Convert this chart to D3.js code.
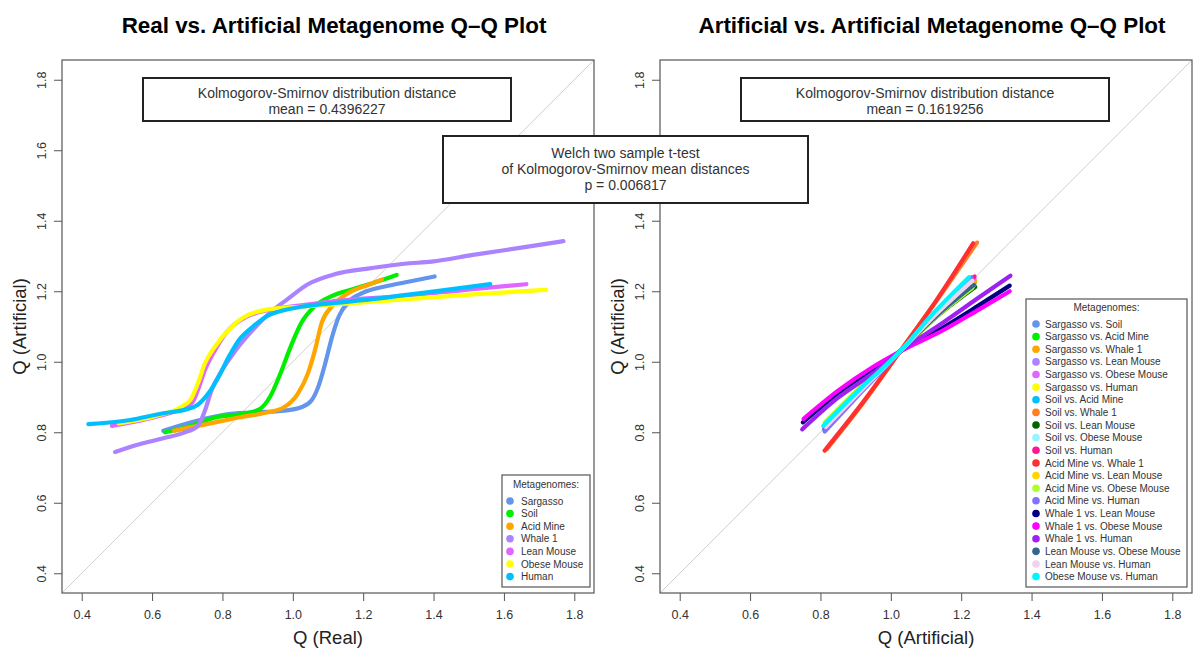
<!DOCTYPE html>
<html><head><meta charset="utf-8">
<script src="https://cdn.jsdelivr.net/npm/d3@7"></script>
<style>
html,body{margin:0;padding:0;background:#fff;}
svg{display:block;font-family:"Liberation Sans",Arial,sans-serif;}
</style></head>
<body>
<svg id="chart" width="1193" height="653"></svg>
<script>
// ---------- DATA ----------
const tickValues = [0.4, 0.6, 0.8, 1.0, 1.2, 1.4, 1.6, 1.8];
const tickLabels = ["0.4","0.6","0.8","1.0","1.2","1.4","1.6","1.8"];

// Left panel: Real vs Artificial (x = Q real, y = Q artificial)
const leftNames  = ["Sargasso","Soil","Acid Mine","Whale 1","Lean Mouse","Obese Mouse","Human"];
const leftColors = ["#6495ED","#00EE00","#FFA500","#AB82FF","#E066FF","#FFFF00","#00BFFF"];
const sargasso = [[0.632,0.804],[0.730,0.833],[0.808,0.850],[0.887,0.856],[0.975,0.861],[1.024,0.871],[1.053,0.890],[1.072,0.928],[1.092,0.995],[1.112,1.072],[1.131,1.129],[1.160,1.172],[1.200,1.196],[1.268,1.215],[1.317,1.225],[1.403,1.242]];
const soil = [[0.637,0.800],[0.711,0.818],[0.779,0.842],[0.857,0.852],[0.906,0.866],[0.935,0.900],[0.965,0.967],[0.994,1.043],[1.024,1.110],[1.063,1.158],[1.112,1.187],[1.170,1.206],[1.239,1.227],[1.295,1.246]];
const acidMine = [[0.662,0.804],[0.730,0.818],[0.779,0.828],[0.847,0.842],[0.926,0.856],[0.975,0.871],[1.014,0.909],[1.043,0.967],[1.063,1.033],[1.082,1.110],[1.112,1.158],[1.160,1.196],[1.219,1.220],[1.253,1.233]];
const whale1 = [[0.495,0.744],[0.564,0.766],[0.632,0.783],[0.691,0.799],[0.730,0.818],[0.750,0.861],[0.769,0.919],[0.799,0.976],[0.838,1.033],[0.887,1.091],[0.935,1.139],[0.984,1.177],[1.043,1.220],[1.121,1.249],[1.219,1.265],[1.317,1.278],[1.395,1.284],[1.512,1.303],[1.659,1.325],[1.769,1.342]];
const leanMouse = [[0.486,0.818],[0.583,0.837],[0.681,0.866],[0.715,0.885],[0.730,0.919],[0.750,0.976],[0.779,1.033],[0.818,1.091],[0.867,1.127],[0.926,1.146],[1.024,1.160],[1.121,1.172],[1.317,1.187],[1.512,1.206],[1.664,1.220]];
const obeseMouse = [[0.505,0.825],[0.613,0.847],[0.681,0.871],[0.711,0.895],[0.730,0.938],[0.750,0.995],[0.779,1.043],[0.818,1.091],[0.857,1.124],[0.926,1.148],[1.024,1.156],[1.121,1.163],[1.317,1.177],[1.512,1.191],[1.720,1.204]];
const human = [[0.419,0.823],[0.534,0.834],[0.632,0.854],[0.701,0.866],[0.730,0.878],[0.759,0.909],[0.789,0.957],[0.818,1.014],[0.847,1.062],[0.887,1.100],[0.926,1.129],[0.975,1.146],[1.024,1.156],[1.121,1.167],[1.219,1.177],[1.317,1.189],[1.415,1.201],[1.561,1.220]];
const leftSeries = [sargasso, soil, acidMine, whale1, leanMouse, obeseMouse, human];

// Right panel: Artificial vs Artificial
const rightNames = ["Sargasso vs. Soil","Sargasso vs. Acid Mine","Sargasso vs. Whale 1","Sargasso vs. Lean Mouse","Sargasso vs. Obese Mouse","Sargasso vs. Human","Soil vs. Acid Mine","Soil vs. Whale 1","Soil vs. Lean Mouse","Soil vs. Obese Mouse","Soil vs. Human","Acid Mine vs. Whale 1","Acid Mine vs. Lean Mouse","Acid Mine vs. Obese Mouse","Acid Mine vs. Human","Whale 1 vs. Lean Mouse","Whale 1 vs. Obese Mouse","Whale 1 vs. Human","Lean Mouse vs. Obese Mouse","Lean Mouse vs. Human","Obese Mouse vs. Human"];
const rightColors = ["#6495ED","#00EE00","#FFA500","#AB82FF","#E066FF","#FFFF00","#00BFFF","#FF7F24","#006400","#98F5FF","#FF1493","#FF3030","#FFD700","#ADFF2F","#8470FF","#000080","#FF00FF","#A020F0","#36648B","#EED2EE","#00F5FF"];
const sarSoil   = [[0.810,0.808],[0.920,0.925],[1.026,1.029],[1.130,1.140],[1.232,1.232]];
const sarAcid   = [[0.815,0.818],[0.925,0.930],[1.026,1.029],[1.130,1.130],[1.238,1.222]];
const sarWhale  = [[0.818,0.812],[0.922,0.922],[1.026,1.029],[1.135,1.138],[1.240,1.228]];
const sarLean   = [[0.812,0.815],[0.920,0.928],[1.026,1.029],[1.135,1.142],[1.236,1.240]];
const sarObese  = [[0.814,0.820],[0.922,0.930],[1.026,1.029],[1.132,1.140],[1.238,1.236]];
const sarHuman  = [[0.816,0.822],[0.925,0.932],[1.026,1.029],[1.130,1.128],[1.234,1.212]];
const soilAcid  = [[0.812,0.810],[0.918,0.922],[1.026,1.029],[1.132,1.145],[1.230,1.238]];
const soilWhale = [[0.818,0.752],[0.925,0.888],[1.026,1.029],[1.135,1.180],[1.245,1.338]];
const soilLean  = [[0.818,0.825],[0.925,0.932],[1.026,1.029],[1.135,1.132],[1.240,1.212]];
const soilObese = [[0.815,0.816],[0.922,0.926],[1.026,1.029],[1.130,1.135],[1.232,1.222]];
const soilHuman = [[0.812,0.812],[0.920,0.924],[1.026,1.029],[1.135,1.142],[1.238,1.242]];
const acidWhale = [[0.812,0.748],[0.920,0.884],[1.026,1.029],[1.128,1.172],[1.234,1.336]];
const acidLean  = [[0.820,0.826],[0.925,0.932],[1.026,1.029],[1.130,1.130],[1.235,1.215]];
const acidObese = [[0.812,0.828],[0.920,0.935],[1.026,1.029],[1.130,1.128],[1.232,1.210]];
const acidHuman = [[0.812,0.802],[0.920,0.918],[1.026,1.029],[1.135,1.148],[1.230,1.240]];
const whaleLean = [[0.750,0.828],[0.860,0.918],[0.950,0.980],[1.026,1.029],[1.150,1.098],[1.250,1.160],[1.338,1.216]];
const whaleObese= [[0.752,0.838],[0.850,0.918],[0.950,0.986],[1.026,1.029],[1.150,1.090],[1.250,1.148],[1.338,1.200]];
const whaleHuman= [[0.748,0.808],[0.850,0.898],[0.950,0.968],[1.026,1.029],[1.150,1.112],[1.250,1.182],[1.340,1.244]];
const leanObese = [[0.815,0.818],[0.922,0.928],[1.026,1.029],[1.132,1.132],[1.236,1.218]];
const leanHuman = [[0.815,0.815],[0.922,0.925],[1.026,1.029],[1.130,1.136],[1.232,1.230]];
const obeseHuman= [[0.808,0.818],[0.918,0.928],[1.026,1.029],[1.125,1.142],[1.222,1.240]];
const rightSeries = [sarSoil,sarAcid,sarWhale,sarLean,sarObese,sarHuman,soilAcid,soilWhale,soilLean,soilObese,soilHuman,acidWhale,acidLean,acidObese,acidHuman,whaleLean,whaleObese,whaleHuman,leanObese,leanHuman,obeseHuman];

const ksLeft = ["Kolmogorov-Smirnov distribution distance","mean = 0.4396227"];
const ksRight = ["Kolmogorov-Smirnov distribution distance","mean = 0.1619256"];
const welch = ["Welch two sample t-test","of Kolmogorov-Smirnov mean distances","p = 0.006817"];

// ---------- DRAWING ----------
const svg = d3.select("#chart");
const domain = [0.344, 1.856];
const panelTop = 60, panelBottom = 593;

function panel(opts){
  const g = svg.append("g");
  const x = d3.scaleLinear().domain(domain).range([opts.left, opts.left + 532]);
  const y = d3.scaleLinear().domain(domain).range([panelBottom, panelTop]);
  const clipId = "clip" + opts.id;
  svg.append("clipPath").attr("id", clipId).append("rect")
    .attr("x", opts.left).attr("y", panelTop).attr("width", 532).attr("height", panelBottom - panelTop);

  // title
  g.append("text").attr("x", opts.left + 272).attr("y", 33).attr("text-anchor","middle")
    .attr("font-size", 22.4).attr("font-weight","bold").attr("fill","#000").text(opts.title);

  // diagonal
  g.append("line").attr("clip-path", `url(#${clipId})`)
    .attr("x1", x(domain[0])).attr("y1", y(domain[0])).attr("x2", x(domain[1])).attr("y2", y(domain[1]))
    .attr("stroke", "#cfcfcf").attr("stroke-width", 1);

  // series
  const line = d3.line().x(d => x(d[0])).y(d => y(d[1])).curve(d3.curveMonotoneX);
  opts.series.forEach((s, i) => {
    g.append("path").attr("d", line(s)).attr("fill","none")
      .attr("stroke", opts.colors[i]).attr("stroke-width", 4.2).attr("stroke-linecap","round")
      .attr("clip-path", `url(#${clipId})`);
  });

  // axes
  const xa = d3.axisBottom(x).tickValues(tickValues).tickFormat((d,i) => tickLabels[i]).tickSizeOuter(0).tickSize(8).tickPadding(9);
  const ya = d3.axisLeft(y).tickValues(tickValues).tickFormat((d,i) => tickLabels[i]).tickSizeOuter(0).tickSize(8).tickPadding(9);
  const gx = g.append("g").attr("transform", `translate(0,${panelBottom})`).call(xa);
  const gy = g.append("g").attr("transform", `translate(${opts.left},0)`).call(ya);
  [gx, gy].forEach(a => {
    a.select(".domain").remove();
    a.selectAll(".tick line").attr("stroke","#555");
    a.selectAll(".tick text").attr("fill","#333").attr("font-size", 12.5)
      .attr("font-family","'Liberation Sans',Arial,sans-serif");
  });
  gy.selectAll(".tick text").attr("text-anchor","middle").attr("x", null).attr("dy", null)
    .attr("transform", function(){ return `translate(${-20},0) rotate(-90)`; }).attr("y", 4);

  // box
  g.append("rect").attr("x", opts.left).attr("y", panelTop).attr("width", 532).attr("height", panelBottom - panelTop)
    .attr("fill","none").attr("stroke","#555").attr("stroke-width",1.2);

  // axis titles
  g.append("text").attr("x", opts.left + 266).attr("y", 644).attr("text-anchor","middle")
    .attr("font-size", 18.5).attr("fill","#222").text(opts.xTitle);
  g.append("text").attr("transform", `translate(${opts.left - 36},${(panelTop+panelBottom)/2}) rotate(-90)`)
    .attr("text-anchor","middle").attr("font-size", 18.5).attr("fill","#222").text("Q (Artificial)");

  // KS box
  const kb = opts.ksBox;
  g.append("rect").attr("x", kb.x).attr("y", 78).attr("width", 368).attr("height", 43)
    .attr("fill","#fff").attr("stroke","#222").attr("stroke-width",2);
  opts.ks.forEach((t, i) => g.append("text").attr("x", kb.x + 184).attr("y", 98 + i*16)
    .attr("text-anchor","middle").attr("font-size", 14).attr("fill","#333").text(t));

  // legend
  const lg = opts.legend;
  const lgG = svg.append("g").attr("class","legend");
  lgG.append("rect").attr("x", lg.x).attr("y", lg.y).attr("width", lg.w).attr("height", lg.h)
    .attr("fill","#fff").attr("stroke","#555").attr("stroke-width",1.2);
  lgG.append("text").attr("x", lg.x + lg.w/2).attr("y", lg.y + lg.titleY).attr("text-anchor","middle")
    .attr("font-size", 10).attr("fill","#333").text("Metagenomes:");
  opts.names.forEach((n, i) => {
    const cy = lg.y + lg.first + i*lg.step;
    lgG.append("circle").attr("cx", lg.x + lg.cx).attr("cy", cy).attr("r", 3.8).attr("fill", opts.colors[i]);
    lgG.append("text").attr("x", lg.x + lg.tx).attr("y", cy + 3.6).attr("font-size", 10).attr("fill","#333").text(n);
  });
}

panel({id:"L", left:62, title:"Real vs. Artificial Metagenome Q\u2013Q Plot", xTitle:"Q (Real)",
  series:leftSeries, colors:leftColors, names:leftNames, ks:ksLeft, ksBox:{x:143},
  legend:{x:502, y:475, w:88, h:112, titleY:13, first:26, step:12.6, cx:8, tx:19}});
panel({id:"R", left:660, title:"Artificial vs. Artificial Metagenome Q\u2013Q Plot", xTitle:"Q (Artificial)",
  series:rightSeries, colors:rightColors, names:rightNames, ks:ksRight, ksBox:{x:741},
  legend:{x:1026, y:299, w:161, h:288, titleY:12, first:25, step:12.63, cx:10, tx:19}});

// Welch box on top
const wg = svg.append("g");
wg.append("rect").attr("x", 443).attr("y", 136).attr("width", 365).attr("height", 67)
  .attr("fill","#fff").attr("stroke","#222").attr("stroke-width",2);
welch.forEach((t, i) => wg.append("text").attr("x", 625.5).attr("y", 158 + i*16)
  .attr("text-anchor","middle").attr("font-size", 14).attr("fill","#333").text(t));
</script>
</body></html>
